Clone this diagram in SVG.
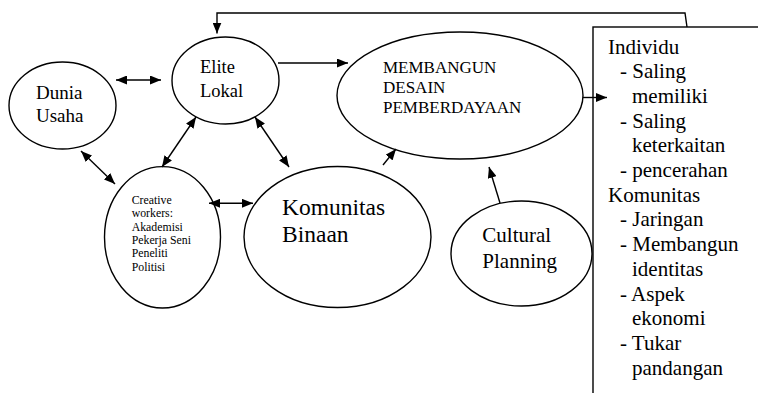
<svg xmlns="http://www.w3.org/2000/svg" width="758" height="393" viewBox="0 0 758 393">
<defs>
<marker id="ah" viewBox="0 0 10 10" refX="10" refY="5" markerWidth="11" markerHeight="9" markerUnits="userSpaceOnUse" orient="auto-start-reverse" preserveAspectRatio="none">
<path d="M0,0 L10,5 L0,10 Z" fill="#000"/>
</marker>
</defs>
<rect width="758" height="393" fill="#fff"/>
<g id="box">
<rect x="593" y="27" width="300" height="400" fill="#fff" stroke="#000" stroke-width="1.4"/>
<text x="608" y="53.5" font-family="serif" font-size="21">Individu</text>
<text x="620" y="78.2" font-family="serif" font-size="21">- Saling</text>
<text x="632" y="102.9" font-family="serif" font-size="21">memiliki</text>
<text x="620" y="127.6" font-family="serif" font-size="21">- Saling</text>
<text x="632" y="152.3" font-family="serif" font-size="21">keterkaitan</text>
<text x="620" y="177" font-family="serif" font-size="21">- pencerahan</text>
<text x="608" y="201.7" font-family="serif" font-size="21">Komunitas</text>
<text x="620" y="226.4" font-family="serif" font-size="21">- Jaringan</text>
<text x="620" y="251.1" font-family="serif" font-size="21">- Membangun</text>
<text x="632" y="275.8" font-family="serif" font-size="21">identitas</text>
<text x="620" y="300.5" font-family="serif" font-size="21">- Aspek</text>
<text x="632" y="325.2" font-family="serif" font-size="21">ekonomi</text>
<text x="620" y="349.9" font-family="serif" font-size="21">- Tukar</text>
<text x="632" y="374.6" font-family="serif" font-size="21">pandangan</text>
</g>
<g id="elite">
<ellipse cx="225.5" cy="80.5" rx="53.5" ry="43.5" fill="#fff" stroke="#000" stroke-width="1.4"/>
<text x="200" y="73" font-family="serif" font-size="18.5">Elite</text>
<text x="200" y="97" font-family="serif" font-size="18.5">Lokal</text>
</g>
<g id="dunia">
<ellipse cx="62.5" cy="105.5" rx="53.5" ry="43.5" fill="#fff" stroke="#000" stroke-width="1.4"/>
<text x="36" y="99" font-family="serif" font-size="19">Dunia</text>
<text x="36" y="121.5" font-family="serif" font-size="19">Usaha</text>
</g>
<g id="membangun">
<ellipse cx="460" cy="95.5" rx="123" ry="63.5" fill="#fff" stroke="#000" stroke-width="1.4"/>
<text x="383" y="73.3" font-family="serif" font-size="17">MEMBANGUN</text>
<text x="383" y="93.3" font-family="serif" font-size="17">DESAIN</text>
<text x="383" y="113.3" font-family="serif" font-size="17">PEMBERDAYAAN</text>
</g>
<g id="creative">
<ellipse cx="162.5" cy="237.3" rx="58" ry="70.7" fill="#fff" stroke="#000" stroke-width="1.4"/>
<text x="131.7" y="204" font-family="serif" font-size="11.8">Creative</text>
<text x="131.7" y="217.3" font-family="serif" font-size="11.8">workers:</text>
<text x="131.7" y="230.7" font-family="serif" font-size="11.8">Akademisi</text>
<text x="131.7" y="244" font-family="serif" font-size="11.8">Pekerja Seni</text>
<text x="131.7" y="257.3" font-family="serif" font-size="11.8">Peneliti</text>
<text x="131.7" y="270.7" font-family="serif" font-size="11.8">Politisi</text>
</g>
<g id="komunitas">
<ellipse cx="337.5" cy="237" rx="93.5" ry="70.5" fill="#fff" stroke="#000" stroke-width="1.4"/>
<text x="282" y="215" font-family="serif" font-size="23.5">Komunitas</text>
<text x="282" y="241.7" font-family="serif" font-size="23.5">Binaan</text>
</g>
<g id="cultural">
<ellipse cx="521.5" cy="253.5" rx="70.5" ry="52.5" fill="#fff" stroke="#000" stroke-width="1.4"/>
<text x="482.3" y="242.3" font-family="serif" font-size="21">Cultural</text>
<text x="482.3" y="268.3" font-family="serif" font-size="21">Planning</text>
</g>
<g id="connectors" fill="none" stroke="#000" stroke-width="1.4">
<polyline points="687,27 685,13 217,13 217,33.5" marker-end="url(#ah)"/>
<line x1="278" y1="63" x2="348" y2="63" marker-end="url(#ah)"/>
<line x1="583" y1="97.5" x2="607" y2="97.5" marker-end="url(#ah)"/>
<line x1="383" y1="165" x2="396" y2="149" marker-end="url(#ah)"/>
<line x1="500" y1="203" x2="489" y2="167" marker-end="url(#ah)"/>
<line x1="116" y1="80" x2="161" y2="80" marker-start="url(#ah)" marker-end="url(#ah)"/>
<line x1="196" y1="117" x2="162" y2="167" marker-start="url(#ah)" marker-end="url(#ah)"/>
<line x1="255" y1="117" x2="289" y2="167" marker-start="url(#ah)" marker-end="url(#ah)"/>
<line x1="81" y1="151" x2="115" y2="184" marker-start="url(#ah)" marker-end="url(#ah)"/>
<line x1="209" y1="203.3" x2="253" y2="203.3" marker-start="url(#ah)" marker-end="url(#ah)"/>
</g>
</svg>
